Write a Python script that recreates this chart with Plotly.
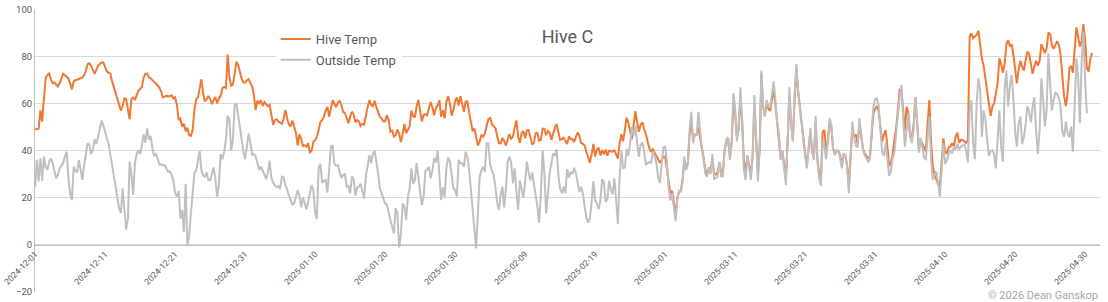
import pandas as pd
import plotly.graph_objects as go

# readings every 6 hours, starting 2024-12-01 00:00
START = "2024-12-01"
STEP = "6h"

hive_temp = [
    # Dec 1 - Dec 15
    49.2, 49.2, 49.5, 57.4, 52.5, 62, 71, 72.3, 73, 70.5,
    68.8, 69.2, 68.5, 67.4, 68.8, 71, 72.8, 72.3, 71.6, 70.8,
    68.8, 66.2, 69.5, 70.2, 70.3, 70.6, 71, 71.3, 72.3, 74.2,
    77, 77.3, 76.2, 74.5, 72.8, 74.5, 76.3, 77, 77.6, 77.6,
    75.9, 73.8, 73.3, 72.8, 69.5, 67.1, 65.2, 62.7, 59.6, 57.2,
    59, 62.4, 62.1, 57.4, 53.5, 62, 62.7, 61.7, 64.1, 65.7,
    # Dec 16 - Dec 30
    66.4, 67.2, 71.2, 72.8, 73, 71.3, 70.9, 70, 69.4, 68.7,
    67.8, 67, 65.2, 62.8, 63.1, 63.5, 63.1, 63.3, 63.7, 62.3,
    62.8, 59.6, 53.2, 53.8, 50.4, 51.6, 48.4, 49.9, 46.7, 46.4,
    48.9, 57.4, 62, 62.7, 67.1, 70.5, 64.5, 61.1, 62, 63.4,
    62.1, 59.9, 61.6, 63, 60.3, 62.4, 63.4, 66.7, 67.2, 66.8,
    81, 71.6, 67.8, 68.2, 72.8, 78, 76.6, 73.3, 70.8, 69.1,
    # Dec 31 - Jan 14
    69.1, 70, 70.6, 68.8, 67.5, 63.8, 57.4, 61.4, 60.3, 61.6,
    59.1, 60.8, 60, 59.1, 59.6, 54.6, 51.1, 53.2, 53.5, 52.5,
    52.1, 51.5, 53.8, 57.4, 53.9, 51.3, 50.4, 53, 50.4, 47.9,
    42.4, 47.2, 45.2, 42.1, 42.4, 41.8, 43.3, 39.4, 40, 44,
    44.5, 46.1, 48.9, 52.3, 53.2, 54.5, 57.2, 58.7, 54.6, 57.6,
    61.6, 60, 58.6, 60.6, 61.3, 59.6, 56.6, 56.2, 53.9, 51.8, 54.6,
    # Jan 15 - Jan 29
    56.7, 55.7, 52.2, 53.2, 52.6, 50.6, 51.5, 51.2, 55.3, 58.6,
    61.6, 59.6, 59, 61.4, 58.6, 56.3, 54.5, 53.8, 52.5, 52.5,
    55.3, 53.2, 48.2, 48.7, 46.1, 46.7, 49.1, 47.4, 43.8, 47.1,
    51.5, 47.5, 48.9, 50.4, 57.2, 54.9, 54.3, 59.1, 61.7, 56,
    52.5, 55.3, 55.7, 55.2, 57.9, 60.8, 58.6, 55.2, 58.3, 59.4,
    61.6, 54.6, 57.3, 53.9, 60.8, 63.4, 60.3, 55, 57.4, 61, 62.8,
    # Jan 30 - Feb 14
    59.3, 63.3, 59.1, 56.7, 61, 61, 56.3, 51.8, 48.4, 49.6,
    45.8, 42.3, 44.1, 46.7, 46.1, 47.5, 50.6, 53.5, 54, 51.5,
    50.5, 49.9, 46.4, 43.3, 43.3, 45.5, 44.4, 42.3, 44.8, 47.2,
    45.2, 46, 49.9, 53, 46.1, 43.5, 47.7, 48.5, 45.4, 48.8,
    48.9, 45.5, 42.7, 43.5, 47.5, 47.7, 44.4, 44.7, 49.5, 49.4,
    46.7, 48.5, 47.7, 44.8, 47.5, 49.8, 51.5, 48.4, 44.7, 45, 45.7,
    # Feb 15 - Mar 1
    44.3, 43, 46.2, 45, 45.1, 43.8, 46, 47.9, 46.4, 43.4,
    43, 42.3, 39.7, 36.7, 35, 38.6, 43, 37.6, 40.4, 41.4,
    38.1, 40.4, 38.6, 40.6, 38, 40.1, 40, 39.7, 40.3, 38.1,
    36.7, 43.3, 47.1, 44.1, 49.4, 54.2, 51.9, 47.5, 45, 51.1,
    56.9, 52.1, 48.2, 51.2, 52.2, 49.2, 47.2, 44, 41.1, 39.6,
    41, 39.3, 37.7, 36.5, 35, 36.2, 37.6, 37.6, 33, 27.1, 22,
    # Mar 2 - Mar 16
    23, 17, 13, 20, 23, 23, 28, 36, 33, 35,
    47, 52, 45, 47, 47, 50, 46, 41, 37, 32,
    30, 33, 31, 37, 30, 30, 31, 35, 31, 31,
    40, 44, 45, 38, 43, 60, 56, 46, 49, 62,
    53, 36, 31, 38, 34, 30, 38, 60, 45, 30,
    41, 73, 59, 55, 60, 58, 57, 61, 66, 60, 52,
    # Mar 17 - Mar 31
    46, 37, 40, 33, 28, 44, 64, 51, 45, 62,
    75, 65, 58, 53, 46, 39, 34, 42, 48, 40,
    37, 52, 37, 30, 28, 48, 49, 40, 44, 52,
    50, 41, 39, 40, 40, 38, 34, 39, 38, 34,
    25, 38, 50, 46, 47, 43, 51, 47, 41, 39,
    38, 37, 37, 46, 56, 58, 59, 57, 51, 44, 47,
    # Apr 1 - Apr 16
    48.9, 41.8, 33.6, 35, 38.4, 45, 49.6, 57.4, 66, 66,
    55.3, 48.7, 58.9, 56, 46.1, 46.1, 51.1, 62.8, 51.8, 40.7,
    44.7, 43, 41.6, 39.7, 51.8, 61.7, 43.3, 33.3, 29.8, 27.7,
    25.8, 25.1, 36.2, 45.4, 39.7, 39, 41.6, 41.8, 43.3, 42.1,
    46.1, 47.8, 43.5, 44.7, 44.6, 44, 43.5, 44.7, 88.7, 90.1,
    87.9, 88.7, 89.4, 91.2, 84.4, 79.4, 76.2, 70.5, 66, 58.6, 54.9,
    # Apr 17 - May 1
    58.9, 60.3, 64.5, 68.8, 79.4, 77, 73.3, 76.9, 85.5, 87.2,
    84.4, 85.5, 80.9, 74.2, 68.8, 74.6, 78.4, 75.9, 74.2, 78.7,
    82.3, 81.3, 77.3, 72.8, 75.9, 78.4, 76.3, 78.4, 85.5, 83,
    81.6, 83.7, 90.4, 89.8, 85.1, 83.4, 85.1, 86.7, 85.1, 80.9,
    71.6, 63.1, 59.1, 64.5, 75.2, 76.2, 73.3, 85.1, 92.6, 88.7,
    84.4, 86.5, 94, 87.2, 75.2, 73.8, 79.4, 81.6,
]

outside_temp = [
    # Dec 1 - Dec 15
    24.8, 36.2, 27, 36.9, 27.4, 37.6, 33, 32, 35.5, 36.8,
    34.8, 31.6, 28.4, 29.8, 32.6, 33.8, 34.8, 37.6, 39.7, 28.4,
    22, 19.1, 33.3, 31.6, 30.8, 36.2, 32.6, 27.7, 34, 39.7,
    43.3, 42.5, 38.7, 40.4, 45, 43, 46.8, 50, 52.9, 50.7,
    47.5, 45.4, 43, 38.3, 32.6, 29.1, 24.5, 19.4, 15.6, 13.5,
    24.1, 15.2, 6.5, 11.3, 35.5, 29.8, 21.3, 34.8, 38.7, 40.4,
    # Dec 16 - Dec 30
    38.7, 42.5, 47.1, 43.5, 49.6, 44.7, 46.4, 41.1, 37.9, 38.7,
    36.9, 34.2, 34.3, 33.9, 34, 32.6, 31.1, 31.3, 29.8, 27.5,
    22, 20.6, 23.1, 11.3, 14.9, 5.5, 26, -0.5, 3.5, 13.5,
    22, 30.6, 31.6, 36.2, 40, 31.9, 29.5, 29.1, 30.8, 27.7,
    27.5, 30.2, 33, 28, 20.6, 25.5, 38.7, 36.5, 39.6, 44.7,
    55, 53.2, 40.1, 44.7, 59.3, 60.3, 54.6, 48.9, 45.4, 39.7,
    # Dec 31 - Jan 14
    36.5, 41.1, 47.5, 43.5, 38.4, 38.7, 37.7, 34.9, 31.9, 33.3,
    31.8, 30.1, 28, 30.8, 35.9, 28.4, 26.5, 25.7, 24.5, 25.1,
    23.8, 29.1, 28.8, 25.4, 23.7, 21, 19.3, 17.2, 17.7, 20.7,
    23.3, 21, 16, 20.3, 17.9, 15.2, 18.3, 21.9, 25.5, 23,
    14, 11, 32.9, 34.5, 26.5, 27.2, 27.7, 22.3, 33.3, 41.8,
    42.4, 34.6, 33.6, 34, 31.1, 28.5, 29.9, 30.2, 24.8, 25.2, 22,
    # Jan 15 - Jan 29
    29.1, 28, 21, 24.5, 24.8, 26, 23.4, 19.7, 29.4, 34.5,
    38.2, 34.8, 39, 40, 35.6, 30.5, 24.1, 21.6, 20.1, 17.7,
    17.2, 13.5, 10.6, 7.8, 5, 15.6, 13.5, -1, 4.3, 17.7,
    16.3, 10.6, 20.6, 24.1, 32.6, 26, 27.7, 34.8, 27.7, 22.7,
    17, 20.6, 31.6, 32.1, 33.3, 28.4, 31.6, 36.9, 35.2, 40.1,
    29.8, 19.1, 24.5, 20.3, 32.6, 37.3, 35.6, 30.5, 24.1, 23.4, 20.6,
    # Jan 30 - Feb 14
    36.2, 34.8, 34.8, 33.3, 39.7, 37.6, 31.9, 22.7, 15.2, 5,
    -1.5, 13.5, 29.1, 31.9, 33.3, 31.2, 43.3, 43.3, 34.2, 31.6,
    29.8, 24.8, 18, 14.9, 21.3, 24.8, 16, 24.1, 35.5, 37.6,
    35.3, 26.2, 32.6, 22.6, 14.9, 27.5, 24.3, 20, 27.1, 35.5,
    30.8, 27.4, 30.8, 26, 20.6, 16.3, 9.5, 22, 40.4, 30.5,
    13.5, 23.4, 30.2, 34.8, 39, 37.9, 40.7, 29.8, 23.9, 22, 24.8,
    # Feb 15 - Mar 1
    22, 32.2, 28.7, 31.1, 30.1, 32.8, 30.6, 27, 22.6, 24.8,
    22, 16.3, 11.8, 9.5, 11.3, 18.4, 27.2, 19.1, 17.6, 15.2,
    19.1, 28, 26.7, 18.3, 19.6, 27.4, 23.4, 21.6, 28.4, 19.1,
    8.9, 29.1, 40.1, 32.6, 32.9, 41, 37.9, 43.3, 50.1, 46.7,
    50.8, 43.3, 37.6, 42.7, 43.7, 39.6, 34.3, 34.8, 35.3, 35,
    39.9, 37.9, 34.9, 28.8, 26.4, 34.2, 41.6, 41.8, 35.5, 24.3, 18.9,
    # Mar 2 - Mar 16
    22, 15.6, 10, 19.9, 23.1, 22.7, 27, 37.6, 31.9, 34.5,
    49.6, 56.7, 43.3, 46.8, 46.8, 56.7, 48.2, 40.7, 36.2, 30.2,
    29.1, 33, 30.2, 38.7, 27.9, 28.4, 29.1, 35.5, 29.1, 29.1,
    40.4, 44.7, 45.8, 36.2, 43.3, 64.5, 58.9, 44, 50.4, 67.1,
    53.2, 31.9, 27.7, 38.2, 33.3, 27.7, 37.6, 63.8, 44.7, 27,
    40.4, 74.2, 58.9, 54.6, 61.7, 58.9, 58.6, 63.8, 69.6, 62.1, 51.8,
    # Mar 17 - Mar 31
    47.5, 36.2, 40.1, 32.2, 25.5, 44.7, 67.1, 51.5, 44, 64.5,
    77, 66, 58.6, 53, 45.4, 37.9, 32.6, 42.5, 49.8, 39.3,
    36.2, 54.9, 35.5, 28.6, 25.1, 44.7, 41.8, 36.5, 44.7, 53.9,
    51, 40.8, 38.2, 40.4, 39.7, 36.9, 32.6, 39, 37.9, 33.3,
    22, 38.3, 52.5, 45.7, 42.1, 41.8, 53.9, 47.5, 40.7, 38.3,
    36.9, 35.5, 36.2, 46.1, 58.9, 62, 62.4, 59.3, 51.1, 39.7, 37.9,
    # Apr 1 - Apr 16
    43.3, 36.9, 29.4, 31.2, 36.9, 39.3, 46.1, 55.3, 63.1, 68.1,
    54.6, 41.8, 48.9, 56, 47, 43.3, 49.6, 62.8, 53.2, 39.3,
    45.7, 41.1, 37, 36.5, 46.1, 54.6, 35.5, 27.7, 29.8, 31.2,
    26.2, 20.6, 31.9, 43.3, 34.5, 35.9, 38.7, 40.4, 39, 41.8,
    40.7, 43, 40.7, 41.8, 42.3, 42.7, 40.1, 35, 57.4, 61.5,
    43.3, 36.5, 60.3, 70.9, 66, 46.1, 57.4, 53.5, 44.7, 37.9, 40.1,
    # Apr 17 - May 1
    40.4, 38.7, 32.6, 44.7, 57.4, 41.8, 35.5, 66.7, 74.2, 58.9,
    67.7, 72.2, 62.4, 48.2, 41.8, 51.8, 54.6, 43, 45.8, 51.5,
    59.1, 56.5, 52.2, 58.9, 62.8, 48.2, 38.7, 48.9, 70.9, 61.7,
    50.4, 57.4, 81.6, 68.8, 57.2, 61.7, 64.8, 64.3, 62.4, 58.9,
    48.2, 46.1, 52.5, 47.5, 45.8, 50.4, 39.7, 58.9, 79.4, 71.6,
    51.8, 78, 90.8, 70.2, 56,
]

hive_time = pd.date_range(START, periods=len(hive_temp), freq=STEP)
outside_time = pd.date_range(START, periods=len(outside_temp), freq=STEP)

fig = go.Figure()
fig.add_trace(go.Scatter(x=hive_time, y=hive_temp, name="Hive Temp", mode="lines",
                         line=dict(color="#F07832", width=2), legendgroup="hive"))
fig.add_trace(go.Scatter(x=outside_time, y=outside_temp, name="Outside Temp", mode="lines",
                         line=dict(color="#BFBFBF", width=2), legendgroup="outside"))

tick_font = dict(family="Roboto, sans-serif", color="#595959")

fig.update_layout(
    width=1108, height=302,
    margin=dict(l=35, r=8, t=9, b=10),
    paper_bgcolor="white", plot_bgcolor="white",
    font=dict(family="Roboto, sans-serif", color="#595959"),
    title=dict(text="Hive C", x=0.5, xref="paper", y=0.877, yanchor="middle",
               font=dict(size=18, color="#595959")),
    legend=dict(x=0.226, y=0.947, xanchor="left", yanchor="top",
                bgcolor="white", font=dict(size=13, color="#595959"),
                tracegroupgap=1, itemwidth=30),
    xaxis=dict(type="date", range=["2024-11-30 23:30", "2025-05-02 03:00"],
               tick0="2024-12-01", dtick=10 * 86400000, tickformat="%Y-%m-%d",
               tickangle=-45, tickfont=dict(size=8.5, **tick_font),
               ticklabeloverflow="allow",
               anchor="free", position=20 / 120.4, showgrid=False,
               showline=True, linecolor="#BFBFBF", linewidth=1,
               ticks="", automargin=False, zeroline=False),
    yaxis=dict(range=[-20, 100.4], tick0=0, dtick=20,
               gridcolor="#D9D9D9", gridwidth=1, zeroline=False,
               showline=True, linecolor="#BFBFBF", linewidth=1,
               ticklabeloverflow="allow",
               tickfont=dict(size=9.5, **tick_font), ticks="", automargin=False),
)

fig.add_annotation(text="© 2026 Dean Ganskop", xref="paper", yref="paper",
                   x=1, y=-0.014, xanchor="right", yanchor="middle",
                   showarrow=False, font=dict(size=11, color="#A6A6A6"))

# drop the default 8px body margin so the figure fills the window exactly
fig.write_html("out.html", config={"displayModeBar": False},
               post_script="document.body.style.margin = '0px';")
